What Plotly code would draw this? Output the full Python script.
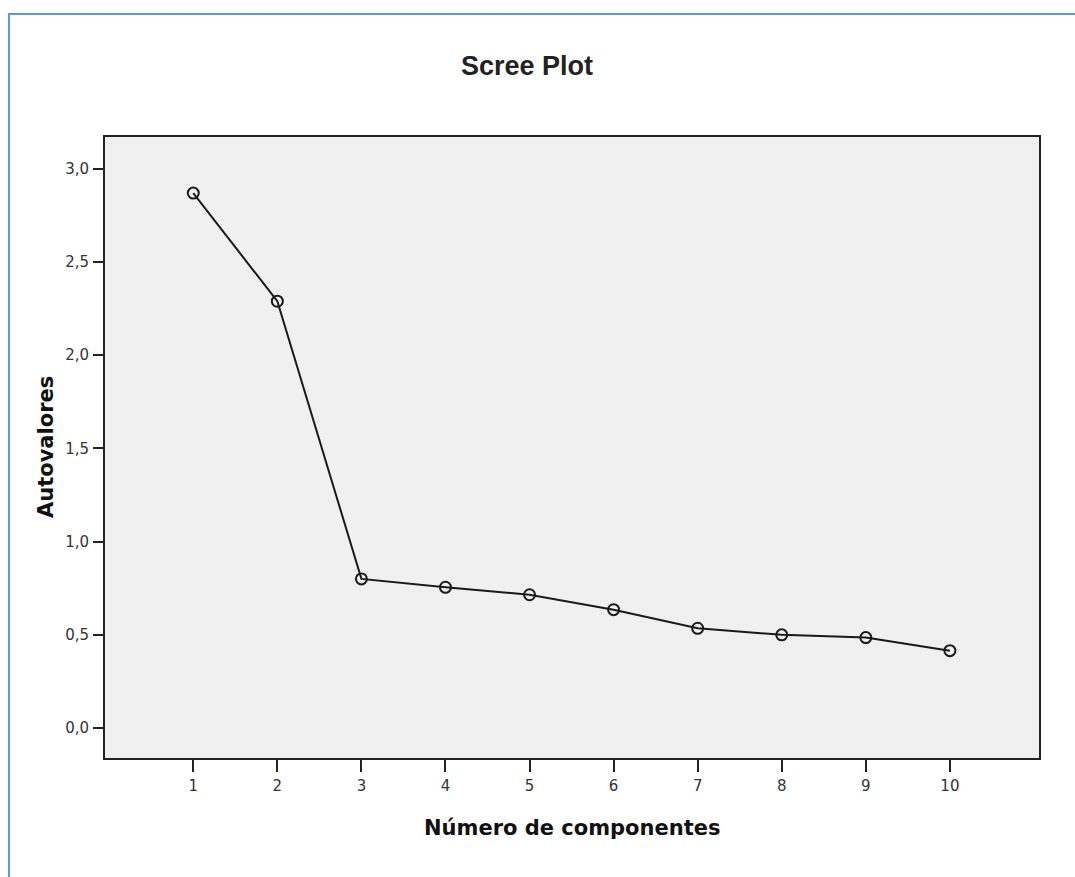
import plotly.graph_objects as go

components = [1, 2, 3, 4, 5, 6, 7, 8, 9, 10]
eigenvalues = [2.87, 2.29, 0.80, 0.755, 0.715, 0.635, 0.535, 0.50, 0.485, 0.415]
y_ticks = [0.0, 0.5, 1.0, 1.5, 2.0, 2.5, 3.0]

W, H = 1075, 877
L, R, T, B = 105, 36, 137, 119
pw, ph = W - L - R, H - T - B

fig = go.Figure()
fig.add_trace(go.Scatter(
    x=components, y=eigenvalues, mode="lines+markers",
    line=dict(color="#1a1a1a", width=2),
    marker=dict(symbol="circle-open", size=11, color="#1a1a1a", line=dict(width=2)),
    showlegend=False,
))

tick_font = dict(family="DejaVu Sans, sans-serif", size=15, color="#333")
title_font = dict(family="DejaVu Sans, sans-serif", size=21, color="#111")

fig.update_layout(
    width=W, height=H,
    margin=dict(l=L, r=R, t=T, b=B, autoexpand=False),
    paper_bgcolor="white",
    plot_bgcolor="#f0f0f0",
    separators=",.",
    title=dict(text="<b>Scree Plot</b>", x=527 / W, xanchor="center",
               xref="container", y=1 - 66 / H, yref="container", yanchor="middle",
               font=dict(family="Liberation Sans, Arial, sans-serif", size=27, color="#222")),
    xaxis=dict(
        range=[-0.05, 11.06], tickvals=components, ticktext=[str(c) for c in components],
        showgrid=False, zeroline=False, showline=True, mirror=True,
        linecolor="#222", linewidth=2, ticks="outside", ticklen=12, tickwidth=2,
        tickcolor="#222", tickfont=tick_font, ticklabelstandoff=1,
    ),
    yaxis=dict(
        range=[-0.161, 3.171], tickvals=y_ticks, tickformat=".1f",
        showgrid=False, zeroline=False, showline=True, mirror=True,
        linecolor="#222", linewidth=2, ticks="outside", ticklen=10, tickwidth=2,
        tickcolor="#222", tickfont=tick_font, ticklabelstandoff=1,
    ),
    annotations=[
        dict(text="<b>Número de componentes</b>", xref="paper", yref="paper",
             x=(572 - L) / pw, y=-(828 - (T + ph)) / ph, xanchor="center", yanchor="middle",
             showarrow=False, font=title_font),
        dict(text="<b>Autovalores</b>", xref="paper", yref="paper",
             x=(46 - L) / pw, y=((T + ph) - 447) / ph, xanchor="center", yanchor="middle",
             textangle=-90, showarrow=False, font=title_font),
    ],
)

# outer blue frame
fig.add_shape(type="rect", xref="paper", yref="paper",
              x0=(9 - L) / pw, x1=(W + 10 - L) / pw,
              y0=-(H + 10 - (T + ph)) / ph, y1=(T + ph - 14) / ph,
              line=dict(color="#5b9bd5", width=2), fillcolor="rgba(0,0,0,0)", layer="below")

fig.write_html("out.html")
